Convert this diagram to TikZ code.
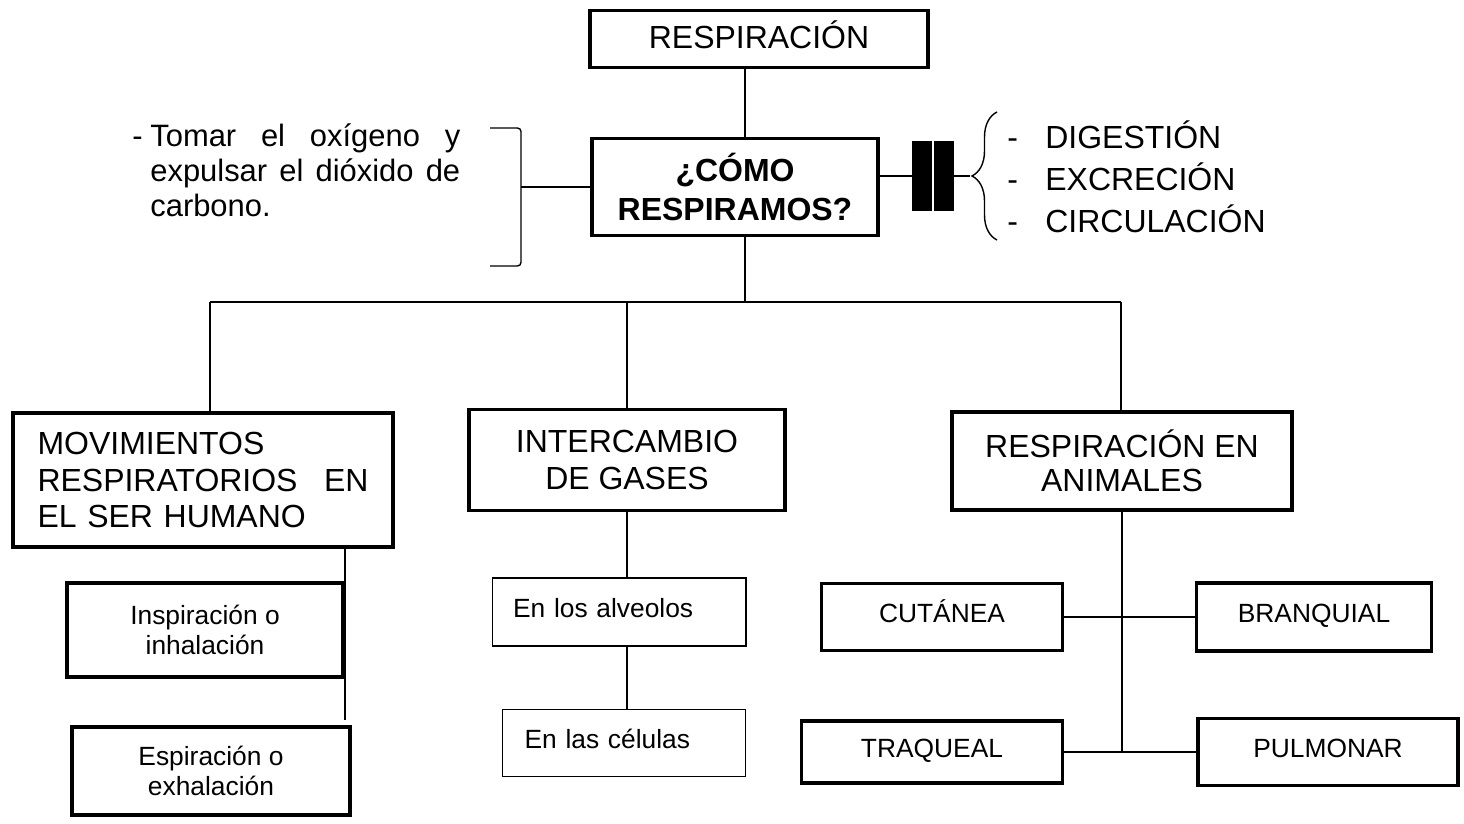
\documentclass[tikz,border=0pt]{standalone}
\usepackage{fontspec}
\setmainfont{Liberation Sans}
\usetikzlibrary{positioning, decorations.pathreplacing}

\begin{document}
\begin{tikzpicture}[x=0.02cm, y=-0.02cm,
    boxBig/.style={draw, line width=2.2pt, inner sep=0pt, align=center,
                   font=\fontsize{18.2}{21.5}\selectfont},
    boxSmall/.style={draw, line width=2.2pt, inner sep=0pt, align=center,
                     font=\fontsize{15}{17}\selectfont},
    boxThin/.style={draw, line width=0.6pt, inner sep=0pt, align=left,
                    font=\fontsize{15}{17}\selectfont},
    oneLine/.style={text height=0.72em, text depth=0.15em},
    link/.style={line width=0.8pt}]
  \useasboundingbox (0,0) rectangle (1464,824);

  % upper part
  \node[boxBig, line width=1.8pt, minimum width=6.76cm, minimum height=1.14cm,
        text height=1.05em, text depth=0pt] (resp) at (759,39) {RESPIRACIÓN};
  \node[boxBig, line width=2pt, minimum width=5.72cm, minimum height=1.94cm,
        font=\fontsize{18.2}{22.7}\selectfont\bfseries] (como) at (735,187) {¿CÓMO\\RESPIRAMOS?};
  \node[anchor=west, inner sep=0pt, text width=6.56cm, align=left,
        font=\fontsize{17.6}{19.8}\selectfont] (purpose) at (132,170)
        {\makebox[0.36cm][l]{-}Tomar\hfill el\hfill oxígeno\hfill y\\
         \hspace*{0.36cm}expulsar\hfill el\hfill dióxido\hfill de\\
         \hspace*{0.36cm}carbono.};
  \node[fill=black, inner sep=0pt, minimum width=0.4cm, minimum height=1.4cm] (barA) at (922,176) {};
  \node[fill=black, inner sep=0pt, minimum width=0.4cm, minimum height=1.4cm] (barB) at (944,176) {};
  \node[anchor=west, inner sep=0pt, align=left,
        font=\fontsize{18.2}{23.8}\selectfont] (organs) at (1007,177)
        {\makebox[0.76cm][l]{-}DIGESTIÓN\\
         \makebox[0.76cm][l]{-}EXCRECIÓN\\
         \makebox[0.76cm][l]{-}CIRCULACIÓN};
  \coordinate (lbrk) at (521,187);
  \coordinate (brtip) at (970,176);
  \coordinate (spine) at (745,302);
  \coordinate (busL) at (210,302);
  \coordinate (busR) at (1121,302);

  % three branches
  \node[boxBig, line width=2.6pt, minimum width=7.6cm, minimum height=2.68cm, text width=6.62cm, align=left,
        font=\fontsize{18.2}{21}\selectfont] (mov) at (203,480)
        {MOVIMIENTOS\\RESPIRATORIOS\hfill EN\\EL SER HUMANO};
  \node[boxBig, minimum width=6.32cm, minimum height=2.02cm] (inter) at (627,460) {INTERCAMBIO\\DE GASES};
  \node[boxBig, minimum width=6.8cm, minimum height=1.96cm,
        font=\fontsize{18.2}{19.5}\selectfont] (anim) at (1122,461) {RESPIRACIÓN EN\\ANIMALES};

  \node[boxSmall, minimum width=5.52cm, minimum height=1.88cm] (insp) at (205,630) {Inspiración o\\inhalación};
  \node[boxSmall, minimum width=5.56cm, minimum height=1.76cm] (espi) at (211,771) {Espiración o\\exhalación};
  \coordinate (movtail) at (345,720);

  \node[boxThin, oneLine, minimum width=5.08cm, minimum height=1.36cm, text width=4.24cm] (alv) at (619,612) {En los alveolos};
  \node[boxThin, oneLine, minimum width=4.86cm, minimum height=1.34cm, text width=3.98cm] (cel) at (624,743) {En las células};

  \node[boxSmall, oneLine, minimum width=4.82cm, minimum height=1.34cm] (cut) at (942,617) {CUTÁNEA};
  \node[boxSmall, oneLine, minimum width=4.7cm, minimum height=1.36cm] (bran) at (1314,617) {BRANQUIAL};
  \node[boxSmall, oneLine, minimum width=5.22cm, minimum height=1.24cm] (traq) at (932,752) {TRAQUEAL};
  \node[boxSmall, oneLine, minimum width=5.2cm, minimum height=1.34cm] (pulm) at (1328,752) {PULMONAR};

  % connectors
  \draw[link] (resp.south -| spine) -- (como.north -| spine);
  \draw[link] (como.south -| spine) -- (spine);
  \draw[link] (busL) -- (busR);
  \draw[link] (busL) -- (busL |- mov.north);
  \draw[link] (inter.north |- busL) -- (inter.north);
  \draw[link] (busR) -- (busR |- anim.north);
  \draw[link] (como.west) -- (como.west -| lbrk);
  \draw[link, rounded corners=2pt] (490,128) -- (521,128) -- (521,266) -- (490,266);
  \draw[link] (como.east |- barA.west) -- (barA.west);
  \draw[link] (barB.east) -- (barB.east -| brtip);
  \draw[link, decorate, decoration={brace, amplitude=0.5cm}] (997,240) -- (997,112);
  \draw[link] (mov.south -| movtail) -- (movtail);
  \draw[link] (inter.south) -- (inter.south |- alv.north);
  \draw[link] (alv.south -| inter.south) -- (cel.north -| inter.south);
  \draw[link] (anim.south) -- (anim.south |- traq.east);
  \draw[link] (cut.east) -- (bran.west);
  \draw[link] (traq.east) -- (pulm.west);
\end{tikzpicture}
\end{document}
